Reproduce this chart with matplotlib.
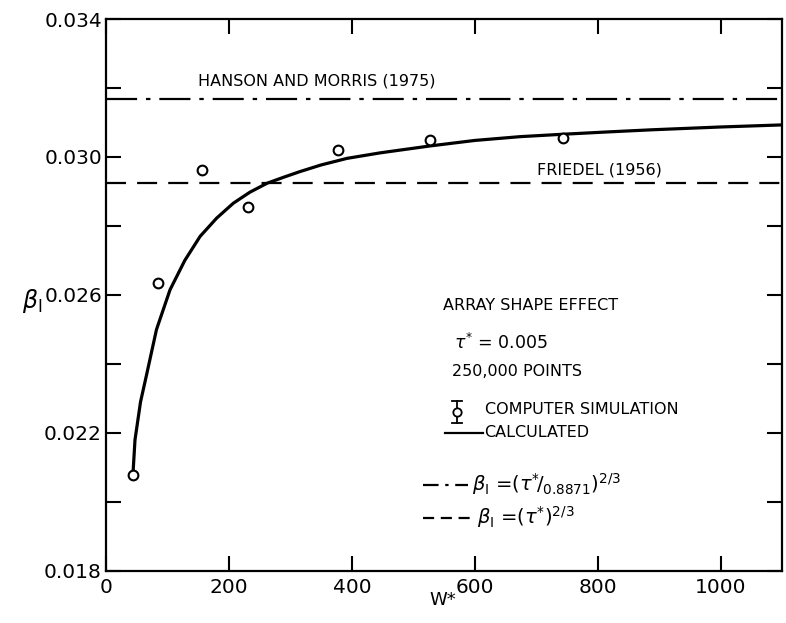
import numpy as np
import matplotlib
matplotlib.use("Agg")
import matplotlib.pyplot as plt
from matplotlib.ticker import MultipleLocator, FixedLocator

plt.rcParams['font.family'] = ['DejaVu Sans']
plt.rcParams['mathtext.fontset'] = 'dejavusans'

# simulation points (open circles)
w_sim = [44, 84, 156, 231, 378, 527, 744]
beta_sim = [0.02077, 0.02636, 0.02962, 0.02856, 0.0302, 0.03049, 0.03055]

# calculated curve
w_calc = [44, 47, 56, 66, 82, 104, 128, 153, 180, 207, 234, 262, 290, 316,
          350, 392, 446, 527, 600, 674, 744, 820, 890, 1000, 1100]
beta_calc = [0.0209, 0.0218, 0.0229, 0.0237, 0.0250, 0.02615, 0.0270, 0.0277,
             0.02823, 0.02866, 0.02898, 0.02924, 0.02942, 0.02958, 0.02977,
             0.02996, 0.03012, 0.03032, 0.03048, 0.03059, 0.03066, 0.03073,
             0.03079, 0.03087, 0.03093]

tau = 0.005
beta_hm = (tau / 0.8871) ** (2 / 3)   # Hanson and Morris (1975)
beta_fr = tau ** (2 / 3)              # Friedel (1956)

fig = plt.figure(figsize=(7.86, 6.23), dpi=100)
ax = fig.add_axes([0.135, 0.0835, 0.860, 0.886])

lw_ref = 1.6
ax.axhline(beta_hm, color='black', lw=lw_ref, dashes=(14, 4, 2, 4))
ax.axhline(beta_fr, color='black', lw=lw_ref, dashes=(9, 5))
ax.plot(w_calc, beta_calc, color='black', lw=2.3, solid_capstyle='round',
        solid_joinstyle='round')
ax.plot(w_sim, beta_sim, 'o', mfc='white', mec='black', ms=7, mew=1.5)

ax.set_xlim(0, 1100)
ax.set_ylim(0.018, 0.034)

ax.xaxis.set_major_locator(FixedLocator([0, 200, 400, 600, 800, 1000]))
ax.yaxis.set_major_locator(FixedLocator([0.018, 0.022, 0.026, 0.030, 0.034]))
ax.yaxis.set_minor_locator(FixedLocator([0.020, 0.024, 0.028, 0.032]))
ax.set_yticklabels(['0.018', '0.022', '0.026', '0.030', '0.034'])
ax.set_xticklabels(['0', '200', '400', '600', '800', '1000'])
ax.tick_params(which='both', direction='in', length=11, width=1.5,
               top=True, right=True, labelsize=14.5)
ax.tick_params(axis='y', pad=3)
ax.tick_params(axis='x', pad=5)
for s in ax.spines.values():
    s.set_linewidth(1.6)

ax.text(0.478, -0.052, 'W*', transform=ax.transAxes, fontsize=13,
        ha='left', va='center')
ax.text(-0.125, 0.49, r'$\beta_{\mathsf{I}}$', transform=ax.transAxes,
        fontsize=17, ha='left', va='center')

# reference line labels
ax.text(150, beta_hm + 0.00052, 'HANSON AND MORRIS (1975)', fontsize=11.5,
        ha='left', va='center')
ax.text(701, beta_fr + 0.00038, 'FRIEDEL (1956)', fontsize=11.5,
        ha='left', va='center')

# annotation block
T = ax.transAxes
ax.text(0.498, 0.481, 'ARRAY SHAPE EFFECT', transform=T, fontsize=11.5,
        ha='left', va='center')
ax.text(0.515, 0.414, r'$\tau^{*}$ = 0.005', transform=T, fontsize=12.5,
        ha='left', va='center')
ax.text(0.512, 0.362, '250,000 POINTS', transform=T, fontsize=11.5,
        ha='left', va='center')

# legend keys
ex, ey = 0.519, 0.288
ax.plot([ex, ex], [ey - 0.02, ey + 0.02], color='black', lw=1.3, transform=T)
ax.plot([ex - 0.007, ex + 0.007], [ey + 0.02, ey + 0.02], color='black', lw=1.3, transform=T)
ax.plot([ex - 0.007, ex + 0.007], [ey - 0.02, ey - 0.02], color='black', lw=1.3, transform=T)
ax.plot([ex], [ey], 'o', mfc='white', mec='black', ms=6, mew=1.3, transform=T)
ax.text(0.561, 0.2917, 'COMPUTER SIMULATION', transform=T, fontsize=11.5,
        ha='left', va='center')

ax.plot([0.501, 0.557], [0.25, 0.25], color='black', lw=1.6, transform=T)
ax.text(0.559, 0.25, 'CALCULATED', transform=T, fontsize=11.5,
        ha='left', va='center')

ax.plot([0.469, 0.536], [0.156, 0.156], color='black', lw=1.6,
        dashes=(7, 3, 1.5, 3), transform=T)
ax.text(0.541, 0.158, r'$\beta_{\mathsf{I}}$ =($\tau^{*}\!/_{0.8871}$)$^{2/3}$',
        transform=T, fontsize=14, ha='left', va='center')

ax.plot([0.469, 0.541], [0.096, 0.096], color='black', lw=1.6,
        dashes=(5, 3), transform=T)
ax.text(0.549, 0.098, r'$\beta_{\mathsf{I}}$ =($\tau^{*}$)$^{2/3}$',
        transform=T, fontsize=14, ha='left', va='center')

fig.savefig('out.png', dpi=100)
